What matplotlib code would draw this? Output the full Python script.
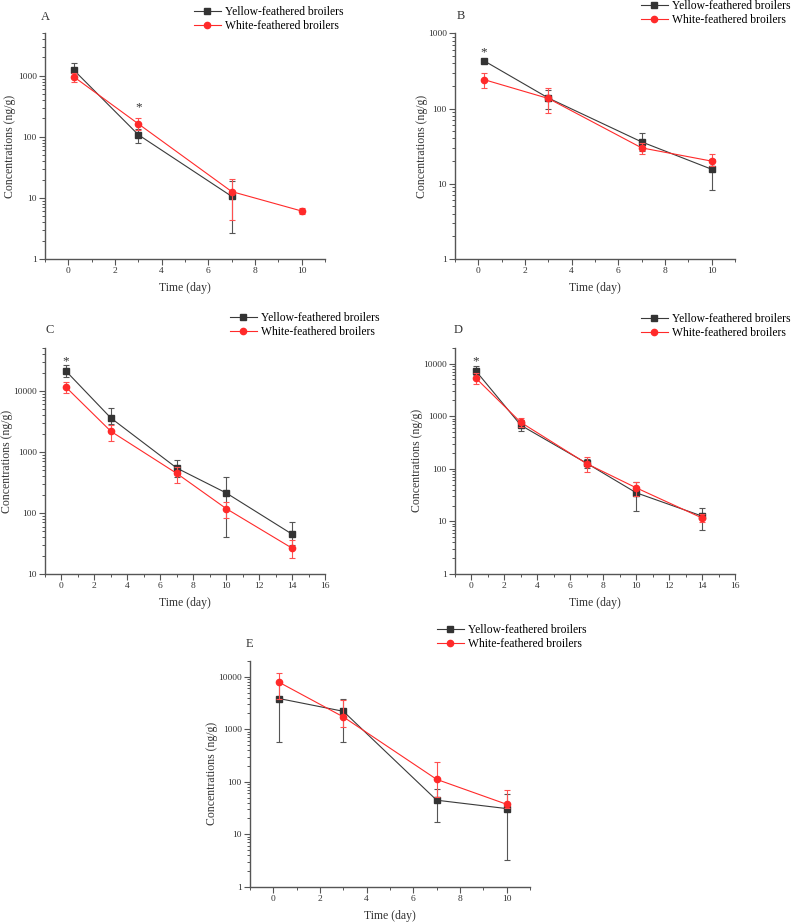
import numpy as np
import matplotlib.pyplot as plt
from matplotlib.lines import Line2D
from matplotlib.ticker import LogLocator, MultipleLocator

plt.rcParams['font.family'] = ['Liberation Serif', 'DejaVu Serif']

# ---- data ----
# panel A
a_x_y = [0.25, 3, 7]
a_y = [1220, 108, 10.6]
a_y_lo = [1220 - 1000, 108 - 80, 10.6 - 2.7]
a_y_hi = [1620 - 1220, 135 - 108, 19 - 10.6]
a_x_w = [0.25, 3, 7, 10]
a_w = [950, 163, 12.7, 6.1]
a_w_lo = [150, 33, 8.4, 0.7]
a_w_hi = [150, 39, 8, 0.8]

# panel B
b_x_y = [0.25, 3, 7, 10]
b_y = [430, 138, 36, 15.6]
b_y_lo = [20, 38, 9, 7.4]
b_y_hi = [20, 37, 11, 6]
b_x_w = [0.25, 3, 7, 10]
b_w = [242, 136, 30, 20]
b_w_lo = [56, 49, 5, 3]
b_w_hi = [58, 50, 5, 5]

# panel C
c_x_y = [0.25, 3, 7, 10, 14]
c_y = [21500, 3600, 545, 213, 45]
c_y_lo = [4500, 700, 150, 172, 15]
c_y_hi = [5000, 1600, 185, 175, 26]
c_x_w = [0.25, 3, 7, 10, 14]
c_w = [11700, 2180, 445, 118, 26.5]
c_w_lo = [2350, 640, 130, 34, 8]
c_w_hi = [2300, 620, 115, 34, 9]

# panel D
d_x_y = [0.25, 3, 7, 10, 14]
d_y = [7350, 670, 127, 35, 12.6]
d_y_lo = [1300, 140, 22, 19, 5.6]
d_y_hi = [1500, 160, 28, 21, 5.4]
d_x_w = [0.25, 3, 7, 10, 14]
d_w = [5350, 760, 125, 43.5, 11.6]
d_w_lo = [1250, 140, 38, 13, 2]
d_w_hi = [1200, 145, 42, 13, 2.5]

# panel E
e_x_y = [0.25, 3, 7, 10]
e_y = [3850, 2200, 44.5, 30.8]
e_y_lo = [3270, 1630, 27.5, 27.6]
e_y_hi = [3900, 1580, 27, 28]
e_x_w = [0.25, 3, 7, 10]
e_w = [7850, 1720, 111, 37.2]
e_w_lo = [4000, 600, 60, 6]
e_w_hi = [4100, 1850, 130, 31.4]

leg_labels = ['Yellow-feathered broilers', 'White-feathered broilers']
gray = '#3a3a3a'
red = '#ff2a2a'

panels = [
    dict(tag='A', rect=[45, 33, 325, 259], ylim=(1, 5000), xlim=(-1, 11),
         yel=(a_x_y, a_y, a_y_lo, a_y_hi), wht=(a_x_w, a_w, a_w_lo, a_w_hi),
         star=(3, 300), leg=(194, 6), ylab=29, tagx=41, tagy=17.5),
    dict(tag='B', rect=[455, 33.3, 735, 259], ylim=(1, 1000), xlim=(-1, 11),
         yel=(b_x_y, b_y, b_y_lo, b_y_hi), wht=(b_x_w, b_w, b_w_lo, b_w_hi),
         star=(0.25, 560), leg=(641, 0), ylab=27, tagx=457, tagy=15.7),
    dict(tag='C', rect=[45, 348.3, 325, 574], ylim=(10, 50000), xlim=(-1, 16),
         yel=(c_x_y, c_y, c_y_lo, c_y_hi), wht=(c_x_w, c_w, c_w_lo, c_w_hi),
         star=(0.25, 31000), leg=(230, 312), ylab=32, tagx=45, tagy=330),
    dict(tag='D', rect=[455, 347.7, 735, 574], ylim=(1, 20000), xlim=(-1, 16),
         yel=(d_x_y, d_y, d_y_lo, d_y_hi), wht=(d_x_w, d_w, d_w_lo, d_w_hi),
         star=(0.25, 11000), leg=(641, 312.7), ylab=32, tagx=454, tagy=330),
    dict(tag='E', rect=[250, 661, 530, 886.7], ylim=(1, 20000), xlim=(-1, 11),
         yel=(e_x_y, e_y, e_y_lo, e_y_hi), wht=(e_x_w, e_w, e_w_lo, e_w_hi),
         star=None, leg=(437, 623.7), ylab=32, tagx=246, tagy=644),
]

W, H = 791, 923
fig = plt.figure(figsize=(W / 100, H / 100), dpi=100)

handles = [
    Line2D([], [], color=gray, lw=0.8, marker='s', ms=4, mfc='#333333', mec='#333333'),
    Line2D([], [], color=red, lw=0.8, marker='o', ms=4.5, mfc=red, mec=red),
]

for p in panels:
    l, t, r, b = p['rect']
    ax = fig.add_axes([l / W, 1 - b / H, (r - l) / W, (b - t) / H])
    ax.set_yscale('log')
    ax.set_xlim(*p['xlim'])
    ax.set_ylim(*p['ylim'])

    xs, ys, lo, hi = p['yel']
    ax.errorbar(xs, ys, yerr=[lo, hi], color=gray, lw=0.8, marker='s', ms=4,
                mfc='#333333', mec='#333333', ecolor='#555555', elinewidth=0.8,
                capsize=2.5, capthick=0.8, zorder=3)
    xs, ys, lo, hi = p['wht']
    ax.errorbar(xs, ys, yerr=[lo, hi], color=red, lw=0.8, marker='o', ms=4.5,
                mfc=red, mec=red, ecolor='#ff5050', elinewidth=0.8,
                capsize=2.5, capthick=0.8, zorder=4)

    if p['star']:
        ax.text(p['star'][0], p['star'][1], '*', ha='center', va='center',
                fontsize=9.5, color='#333333')

    for s in ['top', 'right']:
        ax.spines[s].set_visible(False)
    for s in ['left', 'bottom']:
        ax.spines[s].set_color('#555555')
        ax.spines[s].set_linewidth(1.0)

    ax.xaxis.set_major_locator(MultipleLocator(2))
    ax.xaxis.set_minor_locator(MultipleLocator(1))
    ax.yaxis.set_major_locator(LogLocator(base=10, numticks=10))
    ax.yaxis.set_minor_locator(LogLocator(base=10, subs=np.arange(2, 10), numticks=20))
    ax.yaxis.set_major_formatter(plt.FuncFormatter(lambda v, pos: '%d' % round(v)))
    ax.yaxis.set_minor_formatter(plt.NullFormatter())
    ax.tick_params(which='major', length=4, width=0.8, color='#555555', labelsize=6.8,
                   labelcolor='#333333', pad=2)
    ax.tick_params(which='minor', length=2.2, width=0.7, color='#555555')

    ax.set_xlabel('Time (day)', fontsize=8.5, color='#333333', labelpad=5)
    ax.set_ylabel('Concentrations (ng/g)', fontsize=8.5, color='#333333')
    ax.yaxis.set_label_coords(-p['ylab'] / (r - l), 0.5)

    fig.text(p['tagx'] / W, 1 - p['tagy'] / H, p['tag'], fontsize=9, color='#333333',
             ha='left', va='center')

    lx, ly = p['leg']
    ax.legend(handles, leg_labels, loc='upper left', bbox_to_anchor=(lx / W, 1 - ly / H),
              bbox_transform=fig.transFigure, frameon=False, fontsize=8.4,
              handlelength=2.3, handletextpad=0.35, borderpad=0, borderaxespad=0,
              labelspacing=0.2)

fig.savefig('out.png', dpi=100)
